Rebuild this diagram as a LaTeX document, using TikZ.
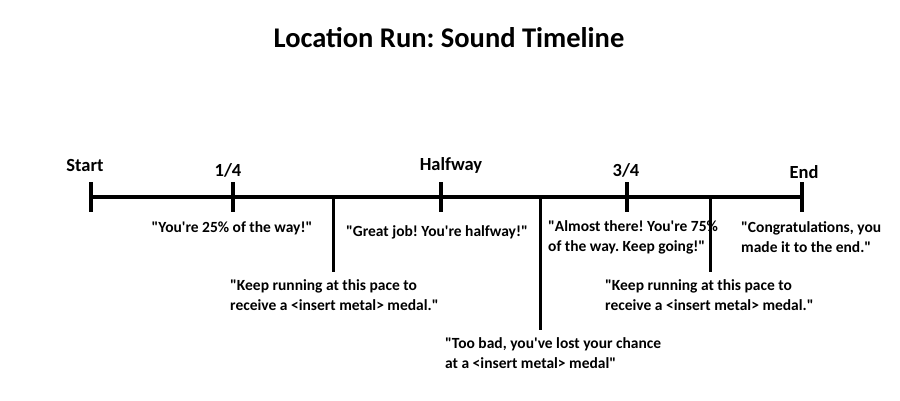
\documentclass[tikz,border=0pt]{standalone}
\usepackage{fontspec}
\setmainfont{Carlito}[Ligatures=TeXOff]
\frenchspacing
\tikzset{
  msg/.style={font=\bfseries\fontsize{15.5}{20}\selectfont, inner sep=0pt},
  mark label/.style={font=\bfseries\fontsize{18.5}{20}\selectfont, inner sep=0pt},
  ticker/.style={line width=4pt},
  dropline/.style={line width=3pt}
}
\begin{document}
\begin{tikzpicture}[x=1pt,y=-1pt]
            \useasboundingbox (0,0) rectangle (900,400);
            \node[font=\bfseries\fontsize{28.5}{30}\selectfont] (title) at (449,38) {Location Run: Sound Timeline};

            % the timeline
            \coordinate (start) at (91,197);
            \coordinate (end) at (802,197);
            \draw[line width=4.5pt] (start) -- (end);

            % milestones: name/x/label/label y/label x
            \foreach \n/\x/\t/\ly/\lx in {s/91/Start/165/85, q/233/{1/4}/170/228, h/441/Halfway/165/451, tq/627/{3/4}/170/626, e/802/End/172/804}
                {\coordinate (\n-top) at (\x,182);
                    \coordinate (\n-bot) at (\x,212);
                    \draw[ticker] (\n-top) -- (\n-bot);
                    \node[mark label] (\n-lab) at (\lx,\ly) {\t};
                }

            % messages under the milestones
            \node[msg] (m1) at (232,228) {"You're 25\% of the way!"};
            \node[msg] (m2) at (437,232) {"Great job! You're halfway!"};
            \node[msg, anchor=west, align=left] (m3) at (548,237) {"Almost there! You're 75\%\\of the way. Keep going!"};
            \node[msg, anchor=west, align=left] (m4) at (741,237) {"Congratulations, you\\made it to the end."};

            % messages hanging from the line
            \coordinate (d1-top) at (333,197);
            \coordinate (d1-bot) at (333,272);
            \coordinate (d2-top) at (540,197);
            \coordinate (d2-bot) at (540,330);
            \coordinate (d3-top) at (710,197);
            \coordinate (d3-bot) at (710,272);
            \foreach \d in {d1,d2,d3}
                \draw[dropline] (\d-top) -- (\d-bot);
            \node[msg, anchor=west, align=left] (k1) at (230,295) {"Keep running at this pace to\\receive a <insert metal> medal."};
            \node[msg, anchor=west, align=left] (k2) at (445,353) {"Too bad, you've lost your chance\\at a <insert metal> medal"};
            \node[msg, anchor=west, align=left] (k3) at (605,295) {"Keep running at this pace to\\receive a <insert metal> medal."};
        \end{tikzpicture}
\end{document}
